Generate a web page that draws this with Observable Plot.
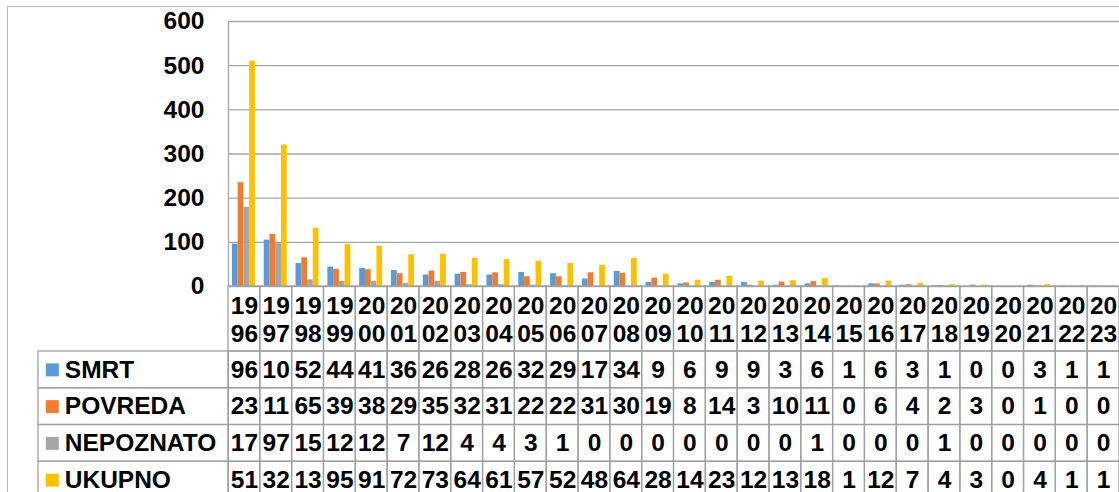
<!DOCTYPE html>
<html>
<head>
<meta charset="utf-8">
<script src="https://cdn.jsdelivr.net/npm/d3@7"></script>
<script src="https://cdn.jsdelivr.net/npm/@observablehq/plot@0.6"></script>
<style>
html, body { margin: 0; padding: 0; width: 1119px; height: 492px; overflow: hidden; background: #fff; }
#root { position: relative; width: 1119px; height: 492px; font-family: "Liberation Sans", Arial, sans-serif; }
.outer { position: absolute; left: 7px; top: 6px; width: 1300px; height: 700px; border-left: 1px solid #b8b8b8; border-top: 1px solid #b8b8b8; }
.part { position: absolute; }
.part svg { overflow: visible; max-width: none; }
</style>
</head>
<body>
<div id="root"><div class="outer"></div></div>
<script>
// ---- data ----
const years = [1996,1997,1998,1999,2000,2001,2002,2003,2004,2005,2006,2007,2008,2009,2010,2011,2012,2013,2014,2015,2016,2017,2018,2019,2020,2021,2022,2023];
const seriesNames = ["SMRT", "POVREDA", "NEPOZNATO", "UKUPNO"];
const smrt      = [96,105,52,44,41,36,26,28,26,32,29,17,34,9,6,9,9,3,6,1,6,3,1,0,0,3,1,1];
const povreda   = [235,118,65,39,38,29,35,32,31,22,22,31,30,19,8,14,3,10,11,0,6,4,2,3,0,1,0,0];
const nepoznato = [179,97,15,12,12,7,12,4,4,3,1,0,0,0,0,0,0,0,1,0,0,0,1,0,0,0,0,0];
const ukupno    = [510,320,132,95,91,72,73,64,61,57,52,48,64,28,14,23,12,13,18,1,12,7,4,3,0,4,1,1];
const yTicks = [0,100,200,300,400,500,600];
const colors = ["#5B9BD5", "#ED7D31", "#A5A5A5", "#FFC000"];

const seriesValues = [smrt, povreda, nepoznato, ukupno];
const rows = seriesNames.flatMap((s, i) => years.map((y, j) => ({year: y, series: s, value: seriesValues[i][j]})));

// ---- layout ----
const W = 1119, plotLeft = 228, plotTop = 21, zeroY = 286, headerH = 65, rowH = 36.75, legendLeft = 37.7;
const font = '"Liberation Sans", Arial, sans-serif';
const fs = 24.5;
const gridColor = "#a6a6a6", lineColor = "#a0a0a0";
const bw = (W - plotLeft) / years.length;
const groupPad = 3.9, barW = 5.75;
const baseStyle = {fontFamily: font, fontSize: fs + "px", fontWeight: "bold", color: "#000", background: "none", overflow: "visible"};
const root = document.getElementById("root");
function place(el, left, top) {
  const d = document.createElement("div");
  d.className = "part";
  d.style.left = left + "px";
  d.style.top = top + "px";
  d.appendChild(el);
  root.appendChild(d);
}
const xBand = {type: "band", domain: years, padding: 0, round: false, axis: null};

// bars
const chart = Plot.plot({
  width: W, height: zeroY + 1,
  marginLeft: plotLeft, marginRight: 0, marginTop: plotTop, marginBottom: 1,
  style: baseStyle,
  x: xBand,
  y: {domain: [0, 600], axis: null},
  color: {domain: seriesNames, range: colors},
  marks: [
    Plot.gridY(yTicks, {stroke: gridColor, strokeOpacity: 1, strokeWidth: 1.3}),
    Plot.frame({anchor: "left", stroke: gridColor, strokeWidth: 1.3}),
    ...seriesNames.map((s, i) => Plot.barY(rows.filter(r => r.series === s), {
      x: "year", y: "value", fill: "series",
      insetLeft: groupPad + i * barW,
      insetRight: bw - groupPad - (i + 1) * barW
    })),
    Plot.axisY(yTicks, {label: null, tickSize: 0, tickPadding: 24, fontSize: fs, fontWeight: "bold", fill: "#000", tickFormat: d => String(d)})
  ]
});
place(chart, 0, 0);

// header row (years)
const header = Plot.plot({
  width: W, height: headerH,
  marginLeft: plotLeft, marginRight: 0, marginTop: 0, marginBottom: 0,
  style: baseStyle,
  x: xBand,
  marks: [
    Plot.cell(years, {x: d => d, fill: "none", stroke: lineColor, strokeWidth: 1.3}),
    Plot.text(years, {x: d => d, text: d => String(d).slice(0, 2) + "\n" + String(d).slice(2), lineHeight: 28 / fs, fontSize: fs, fontWeight: "bold", fill: "#000"})
  ]
});
place(header, 0, zeroY);

// data table
const table = Plot.plot({
  width: W, height: rowH * seriesNames.length,
  marginLeft: plotLeft, marginRight: 0, marginTop: 0, marginBottom: 0,
  style: baseStyle,
  x: xBand,
  y: {type: "band", domain: seriesNames, padding: 0, round: false, axis: null},
  marks: [
    Plot.cell(rows, {x: "year", y: "series", fill: "none", stroke: lineColor, strokeWidth: 1.3}),
    Plot.text(rows, {x: "year", y: "series", text: d => String(d.value).slice(0, 2), fontSize: fs, fontWeight: "bold", fill: "#000"})
  ]
});
place(table, 0, zeroY + headerH);

// legend column
const legend = Plot.plot({
  width: plotLeft - legendLeft, height: rowH * seriesNames.length,
  marginLeft: 0, marginRight: 0, marginTop: 0, marginBottom: 0,
  style: baseStyle,
  y: {type: "band", domain: seriesNames, padding: 0, round: false, axis: null},
  color: {domain: seriesNames, range: colors},
  marks: [
    Plot.cell(seriesNames, {y: d => d, fill: "none", stroke: lineColor, strokeWidth: 1.3}),
    Plot.dot(seriesNames, {y: d => d, frameAnchor: "left", dx: 13.8, symbol: "square", r: 7.33, fill: d => d, stroke: "none"}),
    Plot.text(seriesNames, {y: d => d, frameAnchor: "left", dx: 26.3, textAnchor: "start", text: d => d, fontSize: fs, fontWeight: "bold", fill: "#000"})
  ]
});
place(legend, legendLeft, zeroY + headerH);
</script>
</body>
</html>
